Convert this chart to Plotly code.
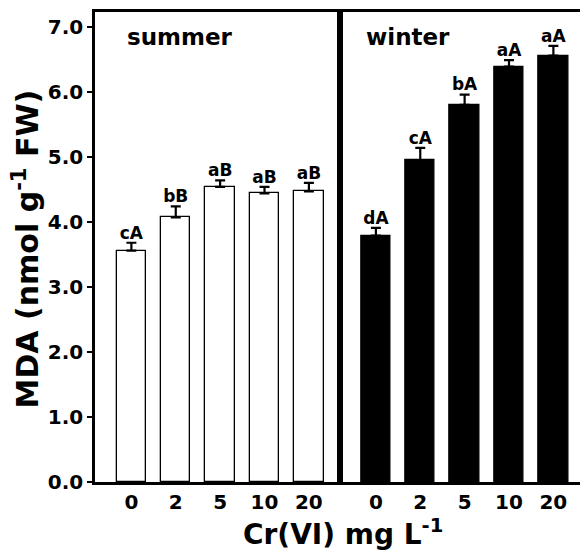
import plotly.graph_objects as go
from plotly.subplots import make_subplots

conc = ["0", "2", "5", "10", "20"]
summer_vals = [3.56, 4.07, 4.54, 4.44, 4.47]
summer_err = [0.12, 0.17, 0.10, 0.10, 0.13]
summer_lbl = ["cA", "bB", "aB", "aB", "aB"]
winter_vals = [3.79, 4.95, 5.80, 6.39, 6.56]
winter_err = [0.12, 0.19, 0.16, 0.10, 0.15]
winter_lbl = ["dA", "cA", "bA", "aA", "aA"]
yticks = [0, 1, 2, 3, 4, 5, 6, 7]

FONT = "DejaVu Sans"

fig = make_subplots(rows=1, cols=2, shared_yaxes=True, horizontal_spacing=0)

def add_panel(vals, err, lbl, fill, col):
    fig.add_trace(go.Bar(
        x=conc, y=vals, width=0.66,
        marker=dict(color=fill, line=dict(color="black", width=1.3)),
        error_y=dict(type="data", symmetric=False, array=err,
                     arrayminus=[0] * len(err), color="black",
                     thickness=2.2, width=5),
        showlegend=False, hoverinfo="skip"), row=1, col=col)
    fig.add_trace(go.Scatter(
        x=conc, y=[v + e for v, e in zip(vals, err)], mode="text",
        text=lbl, textposition="top center",
        textfont=dict(family=FONT, size=17, color="black", weight="bold"),
        showlegend=False, hoverinfo="skip", cliponaxis=False), row=1, col=col)

add_panel(summer_vals, summer_err, summer_lbl, "white", 1)
add_panel(winter_vals, winter_err, winter_lbl, "black", 2)

axis_common = dict(showline=True, linecolor="black", linewidth=2.5, mirror=True,
                   showgrid=False, zeroline=False)

for c in (1, 2):
    fig.update_xaxes(type="category", range=[-0.82, 4.69], ticks="",
                     ticklabelstandoff=0,
                     tickfont=dict(family=FONT, size=20, color="black", weight="bold"),
                     row=1, col=c, **axis_common)

fig.update_yaxes(range=[0, 7.23], tickvals=yticks, tickformat=".1f",
                 ticks="outside", ticklen=5, tickwidth=2, tickcolor="black",
                 tickfont=dict(family=FONT, size=20, color="black", weight="bold"),
                 row=1, col=1, **axis_common)
fig.update_yaxes(range=[0, 7.23], tickvals=yticks, showticklabels=False,
                 ticks="", row=1, col=2, **axis_common)

ann_font = dict(family=FONT, color="black", weight="bold")
fig.add_annotation(text="summer", xref="paper", yref="paper", x=0.173, y=0.947,
                   showarrow=False, font=dict(size=23, **ann_font),
                   xanchor="center", yanchor="middle")
fig.add_annotation(text="winter", xref="paper", yref="paper", x=0.641, y=0.947,
                   showarrow=False, font=dict(size=23, **ann_font),
                   xanchor="center", yanchor="middle")
fig.add_annotation(text="Cr(VI) mg L<sup>-1</sup>", xref="paper", yref="paper",
                   x=0.508, y=-0.108, showarrow=False,
                   font=dict(size=28, **ann_font), xanchor="center", yanchor="middle")
fig.add_annotation(text="MDA (nmol g<sup>-1</sup> FW)", xref="paper", yref="paper",
                   x=-0.14, y=0.496, showarrow=False, textangle=-90,
                   font=dict(size=30, **ann_font), xanchor="center", yanchor="middle")

fig.update_layout(width=580, height=545, margin=dict(l=87, r=3, t=1, b=71),
                  plot_bgcolor="white", paper_bgcolor="white", bargap=0)

fig.write_html("out.html")
